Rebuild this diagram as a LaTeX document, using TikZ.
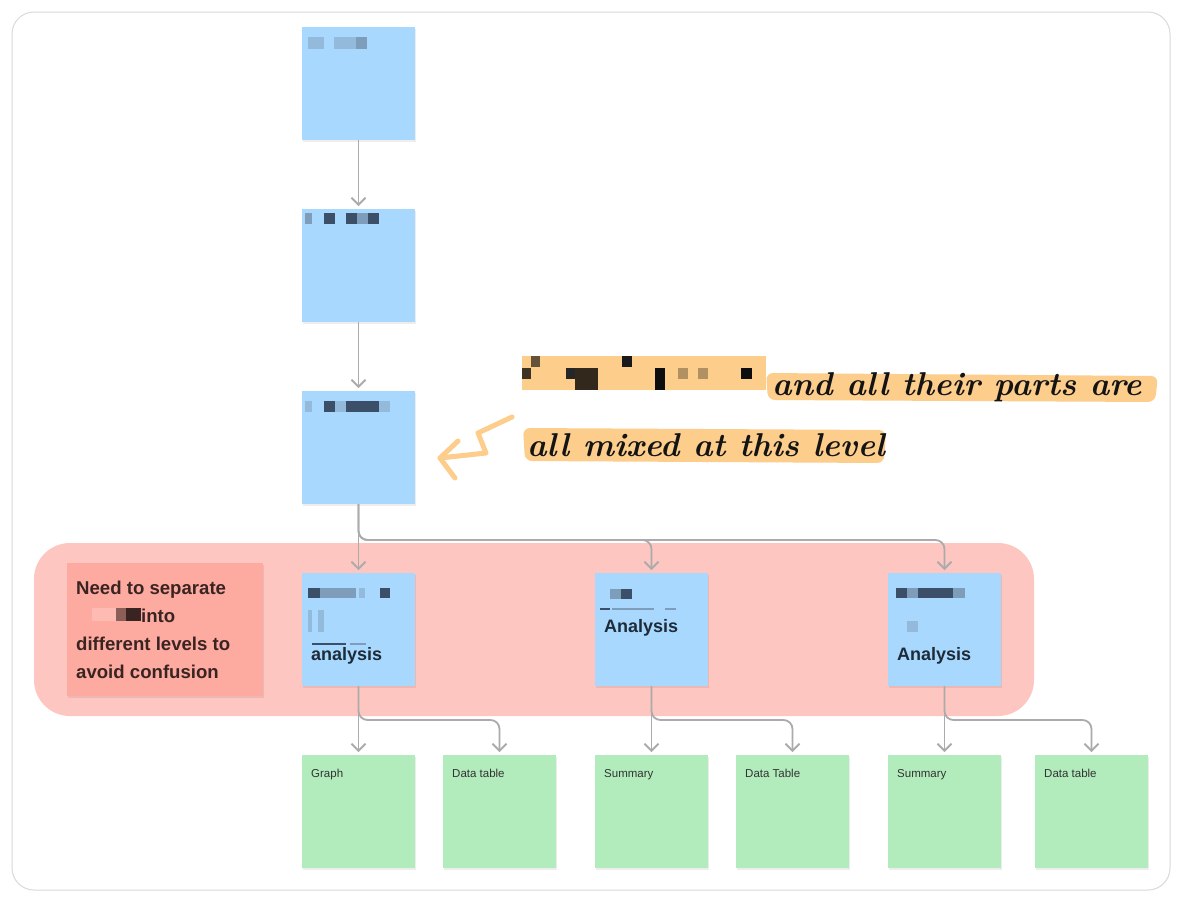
\documentclass[tikz,border=0pt]{standalone}
\usepackage{fontspec}
\setmainfont{Liberation Sans}
\usetikzlibrary{arrows.meta,calc}
\definecolor{frameC}{HTML}{DADADA}
\definecolor{blueC}{HTML}{A8D8FD}
\definecolor{greenC}{HTML}{B3ECBC}
\definecolor{pinkC}{HTML}{FDC6C1}
\definecolor{noteC}{HTML}{FDAAA0}
\definecolor{connC}{HTML}{ABABAB}
\definecolor{hlC}{HTML}{FDCD8C}
\definecolor{navyC}{HTML}{1E2B38}
\definecolor{noteText}{HTML}{3A2422}
\definecolor{pxDark}{HTML}{3B5068}
\definecolor{pxMid}{HTML}{7E9DBB}
\definecolor{pxLight}{HTML}{93BADB}
\newfontfamily\handfont{Latin Modern Roman}
\begin{document}
\begin{tikzpicture}[x=1pt,y=-1pt,
  sticky/.style={anchor=north west, minimum width=113, minimum height=113, inner sep=0, outer sep=0},
  bluebox/.style={sticky, fill=blueC},
  greenbox/.style={sticky, fill=greenC},
  conn/.style={draw=connC, line width=1.8, rounded corners=9, -{Straight Barb[length=7pt,width=14pt,line width=1.8]}, shorten >=3},
  glabel/.style={anchor=base west, inner sep=0, font=\fontsize{11.5}{13}\selectfont, text=black!80},
  blabel/.style={anchor=base west, inner sep=0, font=\fontsize{18}{22}\selectfont\bfseries, text=navyC},
  nlabel/.style={anchor=base west, inner sep=0, font=\fontsize{18.6}{22}\selectfont\bfseries, text=noteText},
  hand/.style={anchor=base west, inner sep=0, font=\handfont\bfseries\itshape\fontsize{33}{38}\selectfont, text=black!92},
  shadowbox/.style={fill=black, opacity=0.07}
]
\useasboundingbox (0,0) rectangle (1184,903);
\fill[white] (0,0) rectangle (1184,903);
\draw[frameC, line width=1, rounded corners=22] (12,12) rectangle (1170,890);

% pink group region
\fill[pinkC, rounded corners=36] (34,543) rectangle (1034,716);
\fill[shadowbox] (68,565) rectangle (264,698);
\fill[noteC] (67,563) rectangle (263,696);

% shadows
\foreach \x/\y in {302/27,302/209,302/391,302/573,595/573,888/573,302/755,443/755,595/755,736/755,888/755,1035/755}{
  \fill[shadowbox] (\x+1,\y+2) rectangle (\x+114,\y+115);
}

% blue boxes
\node[bluebox] (b1) at (302,27) {};
\node[bluebox] (b2) at (302,209) {};
\node[bluebox] (b3) at (302,391) {};
\node[bluebox] (r1) at (302,573) {};
\node[bluebox] (r2) at (595,573) {};
\node[bluebox] (r3) at (888,573) {};

% green boxes
\node[greenbox] (g1) at (302,755) {};
\node[greenbox] (g2) at (443,755) {};
\node[greenbox] (g3) at (595,755) {};
\node[greenbox] (g4) at (736,755) {};
\node[greenbox] (g5) at (888,755) {};
\node[greenbox] (g6) at (1035,755) {};

% pixelated (redacted) text blocks
\fill[pxLight] (308,37) rectangle (324,49);
\fill[pxLight] (334,37) rectangle (356,49);
\fill[pxMid] (356,37) rectangle (367,49);

\fill[pxMid] (305,213) rectangle (312,224);
\fill[pxDark] (324,213) rectangle (335,224);
\fill[pxDark] (346,213) rectangle (357,224);
\fill[pxMid] (357,213) rectangle (368,224);
\fill[pxDark] (368,213) rectangle (379,224);

\fill[pxLight] (305,401) rectangle (312,412);
\fill[pxDark] (324,401) rectangle (335,412);
\fill[pxLight] (335,401) rectangle (346,412);
\fill[pxDark] (346,401) rectangle (379,412);
\fill[pxLight] (379,401) rectangle (390,412);

\fill[pxDark] (308,588) rectangle (320,598);
\fill[pxMid] (320,588) rectangle (356,598);
\fill[pxLight] (359,588) rectangle (365,598);
\fill[pxDark] (380,588) rectangle (390,598);
\fill[pxLight] (308,610) rectangle (312,632);
\fill[pxLight] (318,610) rectangle (324,632);
\fill[pxDark] (312,643) rectangle (346,644.5);
\fill[pxMid] (350,643) rectangle (366,644.5);

\fill[pxMid] (610,589) rectangle (621,599);
\fill[pxDark] (621,589) rectangle (632,599);
\fill[pxDark] (600,608) rectangle (610,609.5);
\fill[pxMid] (612,608) rectangle (654,609.5);
\fill[pxMid] (665,608) rectangle (676,609.5);

\fill[pxDark] (896,588) rectangle (907,598);
\fill[pxMid] (907,588) rectangle (918,598);
\fill[pxDark] (918,588) rectangle (953,598);
\fill[pxMid] (953,588) rectangle (965,598);
\fill[pxLight] (907,621) rectangle (918,632);

% labels in blue boxes
\node[blabel] (t1) at ($(r1.north west)+(9,87)$) {analysis};
\node[blabel] (t2) at ($(r2.north west)+(9,59)$) {Analysis};
\node[blabel] (t3) at ($(r3.north west)+(9,87)$) {Analysis};

% labels in green boxes
\node[glabel] (l1) at ($(g1.north west)+(9,22)$) {Graph};
\node[glabel] (l2) at ($(g2.north west)+(9,22)$) {Data table};
\node[glabel] (l3) at ($(g3.north west)+(9,22)$) {Summary};
\node[glabel] (l4) at ($(g4.north west)+(9,22)$) {Data Table};
\node[glabel] (l5) at ($(g5.north west)+(9,22)$) {Summary};
\node[glabel] (l6) at ($(g6.north west)+(9,22)$) {Data table};

% note text
\fill[noteC!80!white] (92,608) rectangle (116,621);
\fill[black!45!noteC] (116,608) rectangle (126,621);
\fill[noteText] (126,608) rectangle (141,621);
\node[nlabel] (n1) at (76,594) {Need to separate};
\node[nlabel] (n2) at (141,622) {into};
\node[nlabel] (n3) at (76,650) {different levels to};
\node[nlabel] (n4) at (76,678) {avoid confusion};

% connectors
\draw[conn] (b1.south) -- (b2.north);
\draw[conn] (b2.south) -- (b3.north);
\draw[conn] (b3.south) -- (r1.north);
\draw[conn] (b3.south) -- ++(0,36) -| (r2.north);
\draw[conn] (b3.south) -- ++(0,36) -| (r3.north);
\draw[conn] (r1.south) -- (g1.north);
\draw[conn] (r1.south) -- ++(0,34) -| (g2.north);
\draw[conn] (r2.south) -- (g3.north);
\draw[conn] (r2.south) -- ++(0,34) -| (g4.north);
\draw[conn] (r3.south) -- (g5.north);
\draw[conn] (r3.south) -- ++(0,34) -| (g6.north);

% handwritten annotation
\fill[hlC] (522,356) rectangle (766,390);
\fill[hlC, rounded corners=7] (766,373) -- (1158,376) -- (1155,402) -- (768,400) -- cycle;
\fill[hlC, rounded corners=7] (523,428) -- (886,430) -- (884,463) -- (525,461) -- cycle;
\fill[black!75!hlC] (522,368) rectangle (531,379);
\fill[black!60!hlC] (531,356) rectangle (540,367);
\fill[black!85] (566,368) rectangle (575,379);
\fill[black!80!hlC] (575,368) rectangle (598,390);
\fill[black!90] (622,356) rectangle (632,367);
\fill[black!95] (655,368) rectangle (665,390);
\fill[black!30!hlC] (678,368) rectangle (688,379);
\fill[black!30!hlC] (698,368) rectangle (708,379);
\fill[black!95] (741,368) rectangle (752,379);
\node[hand] (h1) at (772,395) {and all their parts are};
\node[hand] (h2) at (527,456) {all mixed at this level};
\draw[hlC, line width=5, line cap=round, line join=round] (512,417) -- (478,433) -- (486,453) -- (440,458);
\draw[hlC, line width=5, line cap=round, line join=round] (458,441) -- (440,458) -- (455,478);
\end{tikzpicture}
\end{document}
